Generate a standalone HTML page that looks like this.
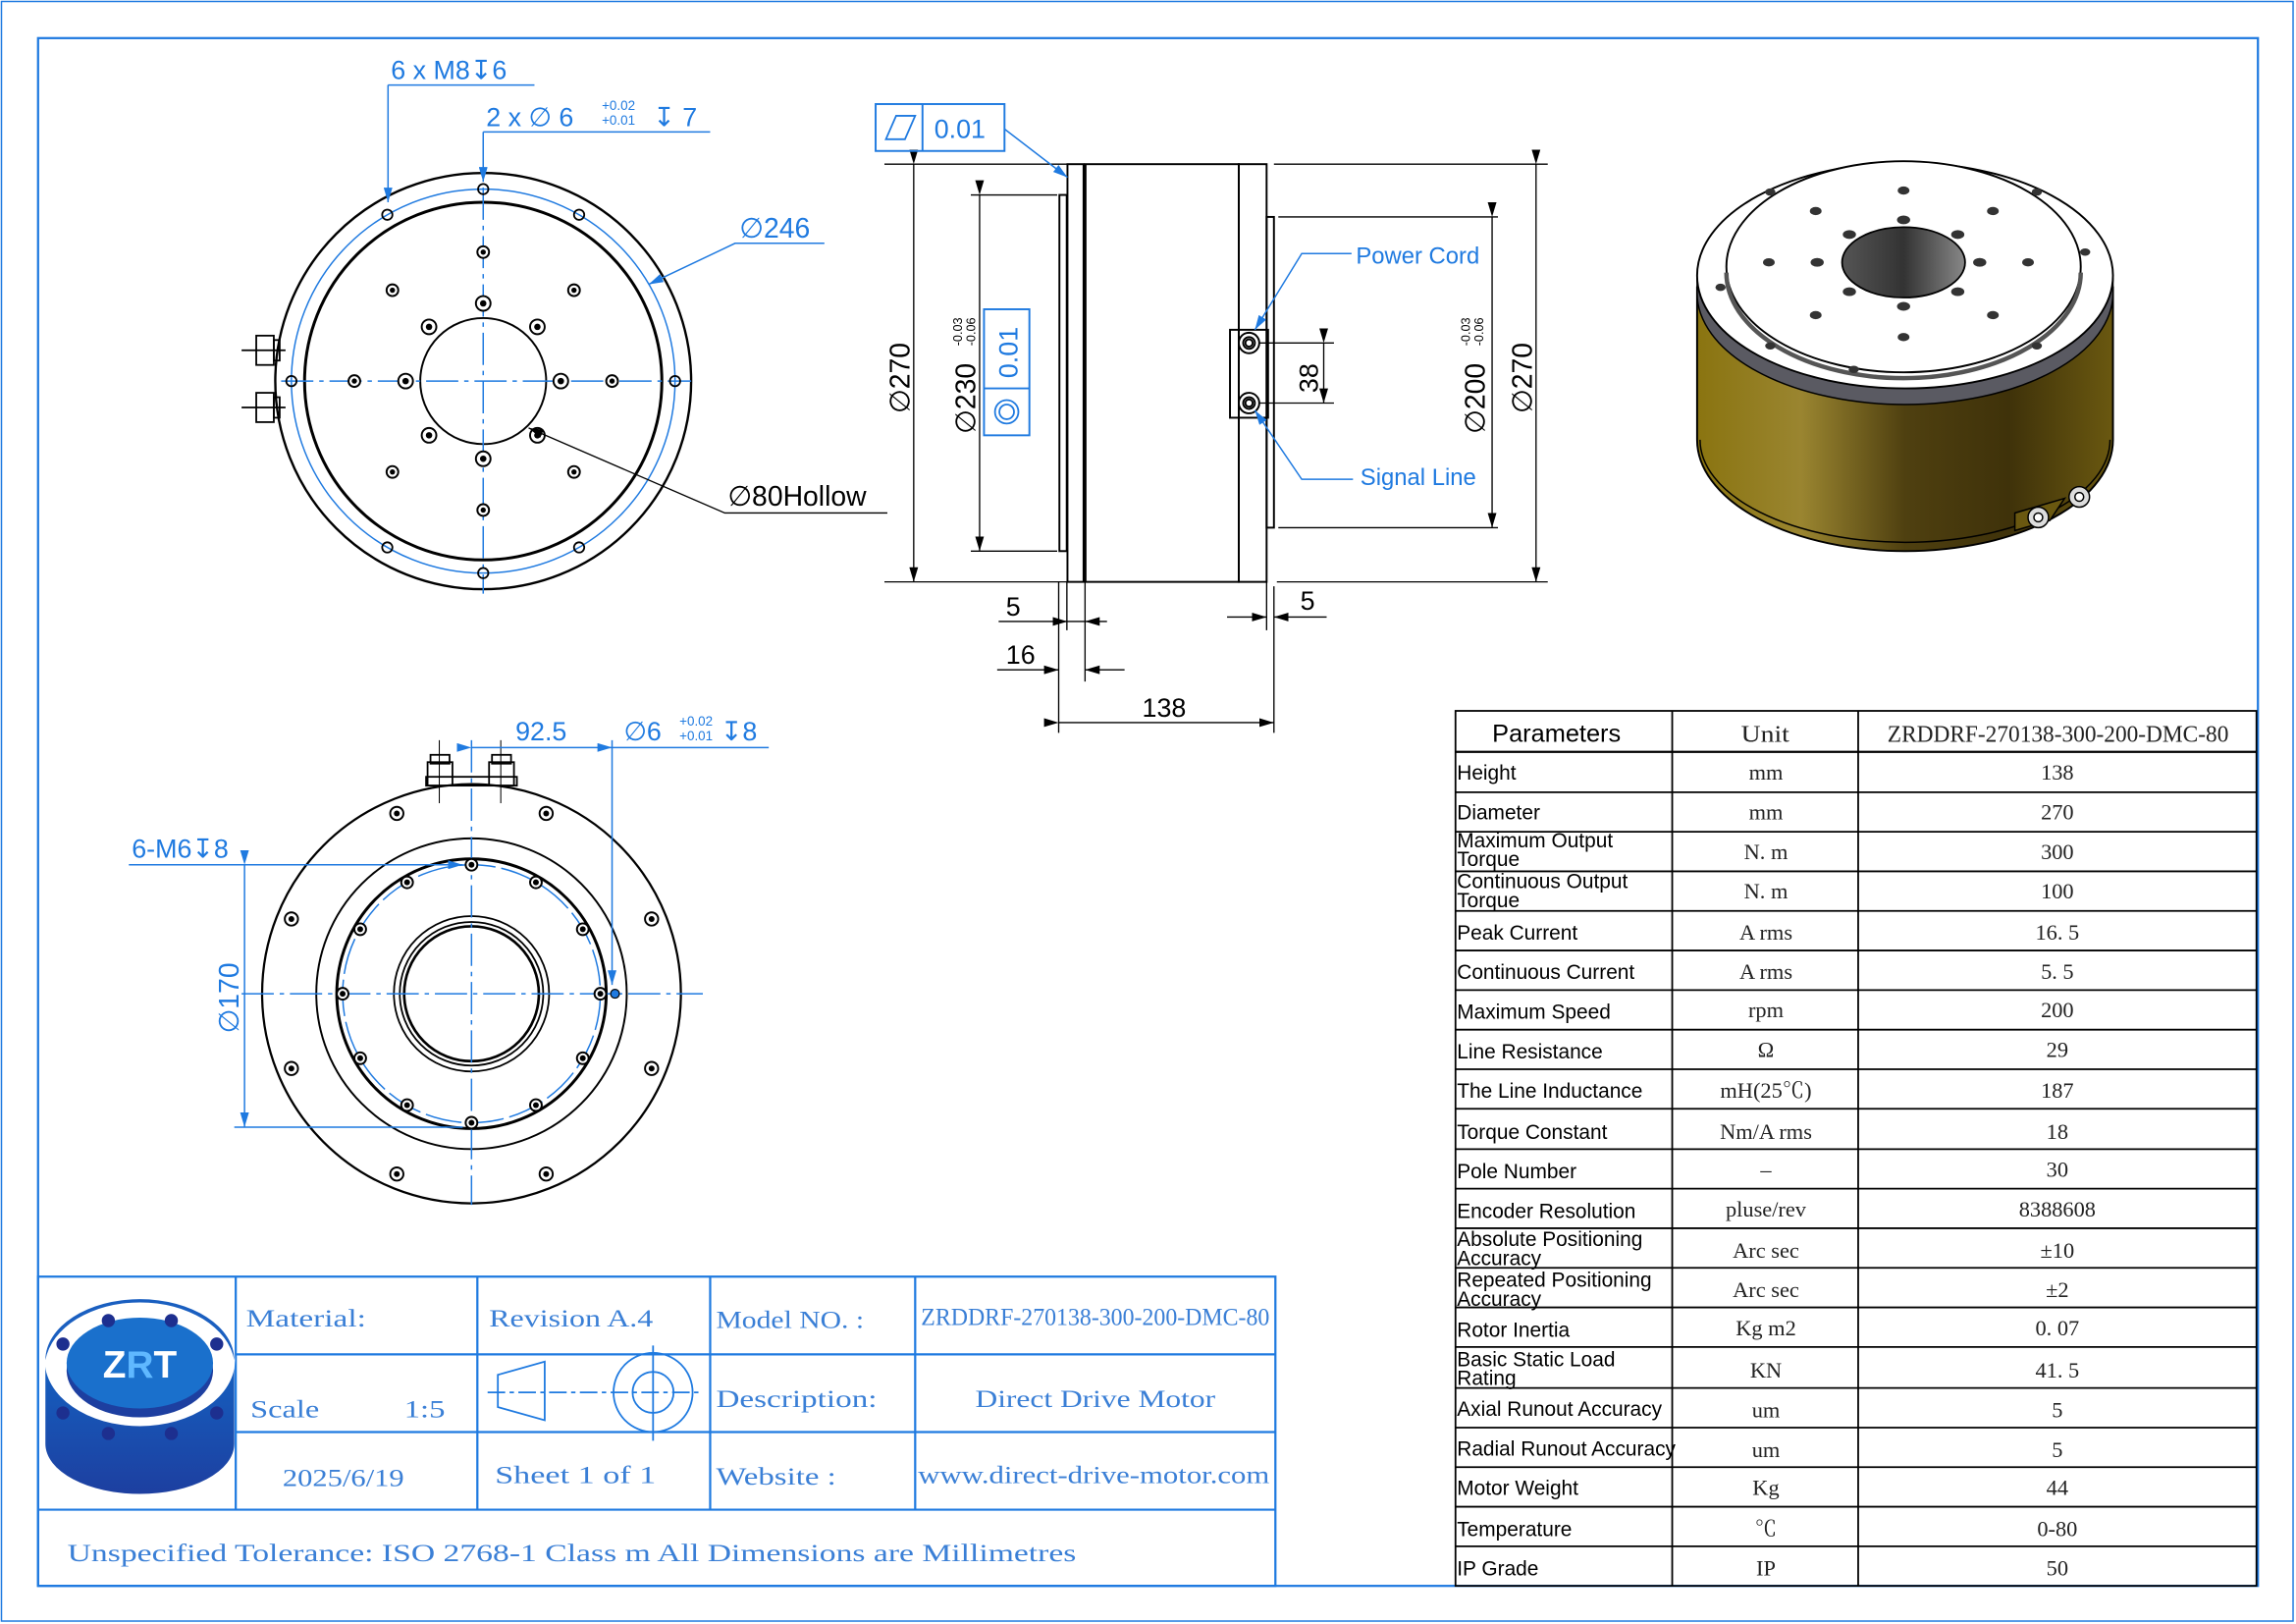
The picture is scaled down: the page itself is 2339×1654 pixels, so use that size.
<!DOCTYPE html>
<html><head><meta charset="utf-8"><style>
html,body{margin:0;padding:0;background:#fff}
svg{display:block}
.b{stroke:#1f7ae0;fill:none}
.k{stroke:#000;fill:none}
.bt{fill:#1f7ae0;font-family:"Liberation Sans",sans-serif}
.st{fill:#3a7fd6;font-family:"Liberation Serif","Noto Serif CJK SC",serif;font-size:17px}
.tp{font-family:"Liberation Sans",sans-serif;font-size:14px;fill:#000}
.tv{font-family:"Liberation Serif","Noto Serif CJK SC",serif;font-size:15px;fill:#222;text-anchor:middle}
</style></head><body>
<svg width="2339" height="1654" viewBox="0 0 1568 1108" preserveAspectRatio="none" xmlns="http://www.w3.org/2000/svg">
<defs>
<marker id="ak" markerWidth="10" markerHeight="6" refX="10" refY="3" orient="auto" markerUnits="userSpaceOnUse"><path d="M0,0 L10,3 L0,6z" fill="#000"/></marker>
<marker id="ab" markerWidth="10" markerHeight="6" refX="10" refY="3" orient="auto" markerUnits="userSpaceOnUse"><path d="M0,0 L10,3 L0,6z" fill="#1f7ae0"/></marker>
<linearGradient id="gold" x1="0" x2="1" y1="0" y2="0">
<stop offset="0" stop-color="#8a7410"/><stop offset="0.25" stop-color="#9a8530"/><stop offset="0.5" stop-color="#4f4010"/><stop offset="0.75" stop-color="#3f320a"/><stop offset="1" stop-color="#6a5810"/></linearGradient>
<linearGradient id="hole" x1="0" x2="1"><stop offset="0" stop-color="#555"/><stop offset="0.5" stop-color="#333"/><stop offset="1" stop-color="#888"/></linearGradient>
<linearGradient id="logo" x1="0" x2="0" y1="0" y2="1"><stop offset="0" stop-color="#1560c0"/><stop offset="1" stop-color="#1d3fa0"/></linearGradient>
</defs>
<rect x="0" y="0" width="1568" height="1108" fill="#fff"/>
<rect x="1" y="1" width="1565" height="1105" class="b" stroke-width="1"/>
<rect x="26" y="26" width="1516" height="1056" class="b" stroke-width="1.5"/>

<!-- ===== TOP-LEFT VIEW ===== -->
<g>
<circle cx="330" cy="260" r="142" class="k" stroke-width="1.6"/>
<circle cx="330" cy="260" r="131" class="b" stroke-width="1"/>
<circle cx="330" cy="260" r="122" class="k" stroke-width="2"/>
<circle cx="330" cy="260" r="43" class="k" stroke-width="1.3"/>
<line x1="330" y1="95" x2="330" y2="405" class="b" stroke-dasharray="22,4,3,4"/>
<line x1="192" y1="260" x2="472" y2="260" class="b" stroke-dasharray="22,4,3,4"/>
<g class="k" stroke-width="1.2">
<circle cx="461" cy="260" r="3.5"/><circle cx="395.5" cy="146.5" r="3.5"/><circle cx="264.5" cy="146.5" r="3.5"/><circle cx="199" cy="260" r="3.5"/><circle cx="264.5" cy="373.5" r="3.5"/><circle cx="395.5" cy="373.5" r="3.5"/>
<circle cx="330" cy="129" r="3.5"/><circle cx="330" cy="391" r="3.5"/>
</g>
<g fill="#fff" stroke="#000" stroke-width="1.3">
<circle cx="330" cy="172" r="4"/><circle cx="392" cy="198" r="4"/><circle cx="418" cy="260" r="4"/><circle cx="392" cy="322" r="4"/><circle cx="330" cy="348" r="4"/><circle cx="268" cy="322" r="4"/><circle cx="242" cy="260" r="4"/><circle cx="268" cy="198" r="4"/>
<circle cx="330" cy="207" r="5"/><circle cx="367" cy="223" r="5"/><circle cx="383" cy="260" r="5"/><circle cx="367" cy="297" r="5"/><circle cx="330" cy="313" r="5"/><circle cx="293" cy="297" r="5"/><circle cx="277" cy="260" r="5"/><circle cx="293" cy="223" r="5"/>
</g>
<g fill="#000"><circle cx="330" cy="172" r="1.8"/><circle cx="392" cy="198" r="1.8"/><circle cx="418" cy="260" r="1.8"/><circle cx="392" cy="322" r="1.8"/><circle cx="330" cy="348" r="1.8"/><circle cx="268" cy="322" r="1.8"/><circle cx="242" cy="260" r="1.8"/><circle cx="268" cy="198" r="1.8"/>
<circle cx="330" cy="207" r="2.2"/><circle cx="367" cy="223" r="2.2"/><circle cx="383" cy="260" r="2.2"/><circle cx="367" cy="297" r="2.2"/><circle cx="330" cy="313" r="2.2"/><circle cx="293" cy="297" r="2.2"/><circle cx="277" cy="260" r="2.2"/><circle cx="293" cy="223" r="2.2"/></g>
<g class="k" stroke-width="1.2">
<rect x="175" y="229" width="12" height="20"/><rect x="187" y="232" width="4" height="14"/><line x1="165" y1="239" x2="195" y2="239"/>
<rect x="175" y="268" width="12" height="20"/><rect x="187" y="271" width="4" height="14"/><line x1="165" y1="278" x2="195" y2="278"/>
</g>
<text x="267" y="54" class="bt" font-size="18">6 x M8↧6</text>
<line x1="265" y1="58" x2="365" y2="58" class="b"/>
<line x1="265" y1="58" x2="265" y2="138" class="b" marker-end="url(#ab)"/>
<text x="332" y="86" class="bt" font-size="18">2 x ∅ 6</text>
<text x="411" y="75" class="bt" font-size="9">+0.02</text>
<text x="411" y="85" class="bt" font-size="9">+0.01</text>
<text x="446" y="86" class="bt" font-size="18">↧ 7</text>
<line x1="330" y1="90" x2="485" y2="90" class="b"/>
<line x1="330" y1="90" x2="330" y2="124" class="b" marker-end="url(#ab)"/>
<text x="505" y="162" class="bt" font-size="19">∅246</text>
<polyline points="563,166 502,166 443,194" class="b" marker-end="url(#ab)"/>
<text x="497" y="345" font-family="Liberation Sans,sans-serif" font-size="19" fill="#000">∅80Hollow</text>
<polyline points="606,350 495,350 361,292" class="k" stroke-width="0.9" marker-end="url(#ak)"/>
</g>

<!-- ===== SIDE VIEW ===== -->
<g class="k" stroke-width="1.3">
<rect x="723.5" y="133" width="5" height="243"/>
<rect x="729" y="112" width="11" height="285"/>
<line x1="741" y1="112" x2="741" y2="397" stroke-width="2"/>
<rect x="741" y="112" width="105" height="285"/>
<rect x="846" y="112" width="19" height="285"/>
<rect x="865" y="148" width="5" height="212"/>
<rect x="840" y="225" width="26" height="60"/>
<circle cx="853" cy="234" r="7"/><circle cx="853" cy="234" r="4"/><circle cx="853" cy="234" r="2.5"/>
<circle cx="853" cy="275" r="7"/><circle cx="853" cy="275" r="4"/><circle cx="853" cy="275" r="2.5"/>
</g>
<g class="k" stroke-width="0.9">
<line x1="604" y1="112" x2="729" y2="112"/><line x1="604" y1="397" x2="729" y2="397"/>
<line x1="624" y1="112" x2="624" y2="397" marker-start="url(#ak)" marker-end="url(#ak)"/>
<line x1="663" y1="133" x2="722" y2="133"/><line x1="663" y1="376" x2="722" y2="376"/>
<line x1="669" y1="133" x2="669" y2="376" marker-start="url(#ak)" marker-end="url(#ak)"/>
<line x1="870" y1="112" x2="1057" y2="112"/><line x1="872" y1="397" x2="1057" y2="397"/>
<line x1="1049" y1="112" x2="1049" y2="397" marker-start="url(#ak)" marker-end="url(#ak)"/>
<line x1="873" y1="148" x2="1023" y2="148"/><line x1="873" y1="360" x2="1023" y2="360"/>
<line x1="1019" y1="148" x2="1019" y2="360" marker-start="url(#ak)" marker-end="url(#ak)"/>
<line x1="860" y1="234" x2="911" y2="234"/><line x1="860" y1="275" x2="911" y2="275"/>
<line x1="904" y1="234" x2="904" y2="275" marker-start="url(#ak)" marker-end="url(#ak)"/>
<line x1="723" y1="397" x2="723" y2="500"/><line x1="728.6" y1="397" x2="728.6" y2="430"/><line x1="741" y1="397" x2="741" y2="465"/>
<line x1="865" y1="397" x2="865" y2="430"/><line x1="870" y1="400" x2="870" y2="500"/>
<line x1="682" y1="424" x2="729" y2="424" marker-end="url(#ak)"/><line x1="756" y1="424" x2="741" y2="424" marker-end="url(#ak)"/><line x1="729" y1="424" x2="741" y2="424"/>
<line x1="681" y1="457" x2="723" y2="457" marker-end="url(#ak)"/><line x1="768" y1="457" x2="741" y2="457" marker-end="url(#ak)"/>
<line x1="838" y1="421" x2="865" y2="421" marker-end="url(#ak)"/><line x1="906" y1="421" x2="870" y2="421" marker-end="url(#ak)"/>
<line x1="723" y1="493" x2="870" y2="493" marker-start="url(#ak)" marker-end="url(#ak)"/>
</g>
<g font-family="Liberation Sans,sans-serif" fill="#000">
<text x="687" y="420" font-size="18">5</text>
<text x="687" y="453" font-size="18">16</text>
<text x="780" y="489" font-size="18">138</text>
<text x="888" y="416" font-size="18">5</text>
<text transform="translate(900,268) rotate(-90)" font-size="18">38</text>
<text transform="translate(621,282) rotate(-90)" font-size="19">∅270</text>
<text transform="translate(666,296) rotate(-90)" font-size="19">∅230</text>
<text transform="translate(657,236) rotate(-90)" font-size="8.5">-0.03</text>
<text transform="translate(666,236) rotate(-90)" font-size="8.5">-0.06</text>
<text transform="translate(1014,296) rotate(-90)" font-size="19">∅200</text>
<text transform="translate(1004,236) rotate(-90)" font-size="8.5">-0.03</text>
<text transform="translate(1013,236) rotate(-90)" font-size="8.5">-0.06</text>
<text transform="translate(1046,282) rotate(-90)" font-size="19">∅270</text>
</g>
<rect x="672" y="211" width="31" height="86" class="b" stroke-width="1.3"/>
<line x1="672" y1="265" x2="703" y2="265" class="b" stroke-width="1.3"/>
<text transform="translate(695,258) rotate(-90)" class="bt" font-size="18">0.01</text>
<circle cx="687.5" cy="281" r="8" class="b" stroke-width="1.2"/><circle cx="687.5" cy="281" r="5" class="b" stroke-width="1.2"/>
<rect x="598" y="71" width="88" height="32" class="b" stroke-width="1.3"/>
<line x1="630" y1="71" x2="630" y2="103" class="b" stroke-width="1.3"/>
<path d="M605,95 L612,79 L625,79 L618,95z" class="b" stroke-width="1.2"/>
<text x="638" y="94" class="bt" font-size="18">0.01</text>
<line x1="686" y1="88" x2="729" y2="121" class="b" marker-end="url(#ab)"/>
<text x="926" y="180" class="bt" font-size="16">Power Cord</text>
<polyline points="923,173 889,173 857,225" class="b" marker-end="url(#ab)"/>
<text x="929" y="331" class="bt" font-size="16">Signal Line</text>
<polyline points="924,327 889,327 857,280" class="b" marker-end="url(#ab)"/>

<!-- ===== 3D VIEW ===== -->
<g>
<path d="M1159,196 L1159,300 A142,76 0 0 0 1443,300 L1443,196z" fill="url(#gold)" stroke="#000" stroke-width="1.3"/>
<path d="M1161,300 A140,70 0 0 0 1441,300" fill="none" stroke="#000" stroke-width="1"/>
<path d="M1159,190 L1159,200 A142,76 0 0 0 1443,200 L1443,190z" fill="#5a5a62" stroke="#000" stroke-width="1"/>
<ellipse cx="1301" cy="188" rx="142" ry="77" fill="#fff" stroke="#000" stroke-width="1.3"/>
<ellipse cx="1300" cy="182" rx="121" ry="72" fill="#fff" stroke="#000" stroke-width="1.3"/>
<path d="M1179,186 A121,72 0 0 0 1421,186" fill="none" stroke="#555" stroke-width="3"/>
<ellipse cx="1300" cy="179" rx="42" ry="24" fill="url(#hole)" stroke="#000" stroke-width="1.2"/>
<g fill="#333">
<ellipse cx="1300" cy="130" rx="4" ry="2.8"/><ellipse cx="1300" cy="150" rx="4.5" ry="3"/><ellipse cx="1300" cy="209" rx="4.5" ry="3"/><ellipse cx="1300" cy="230" rx="4" ry="2.8"/>
<ellipse cx="1241" cy="179" rx="4.5" ry="3"/><ellipse cx="1208" cy="179" rx="4" ry="2.8"/><ellipse cx="1352" cy="179" rx="4.5" ry="3"/><ellipse cx="1385" cy="179" rx="4" ry="2.8"/>
<ellipse cx="1263" cy="160" rx="4.5" ry="3"/><ellipse cx="1337" cy="160" rx="4.5" ry="3"/><ellipse cx="1263" cy="199" rx="4.5" ry="3"/><ellipse cx="1337" cy="199" rx="4.5" ry="3"/>
<ellipse cx="1240" cy="144" rx="4" ry="2.8"/><ellipse cx="1361" cy="144" rx="4" ry="2.8"/><ellipse cx="1240" cy="215" rx="4" ry="2.8"/><ellipse cx="1361" cy="215" rx="4" ry="2.8"/>
<ellipse cx="1209" cy="131" rx="3.5" ry="2.5"/><ellipse cx="1391" cy="131" rx="3.5" ry="2.5"/><ellipse cx="1175" cy="196" rx="3.5" ry="2.5"/><ellipse cx="1424" cy="172" rx="3.5" ry="2.5"/><ellipse cx="1209" cy="236" rx="3.5" ry="2.5"/><ellipse cx="1391" cy="236" rx="3.5" ry="2.5"/><ellipse cx="1266" cy="252" rx="3.5" ry="2.5"/>
</g>
<g stroke="#000" stroke-width="1" fill="#ddd">
<path d="M1376,350 L1376,362 L1400,355 L1410,340z" fill="#6a5810"/>
<circle cx="1392" cy="353" r="7"/><circle cx="1392" cy="353" r="3" fill="#fff"/>
<circle cx="1420" cy="339" r="7"/><circle cx="1420" cy="339" r="3" fill="#fff"/>
</g>
</g>

<!-- ===== BOTTOM VIEW ===== -->
<g>
<circle cx="322" cy="678" r="143" class="k" stroke-width="1.5"/>
<circle cx="322" cy="678" r="106" class="k" stroke-width="1.3"/>
<circle cx="322" cy="678" r="92" class="k" stroke-width="2"/>
<circle cx="322" cy="678" r="88" class="b" stroke-dasharray="25,4"/>
<circle cx="322" cy="678" r="53" class="k" stroke-width="1.2"/>
<circle cx="322" cy="678" r="49" class="k" stroke-width="1.2"/>
<circle cx="322" cy="678" r="46" class="k" stroke-width="1.8"/>
<line x1="322" y1="505" x2="322" y2="822" class="b" stroke-dasharray="22,4,3,4"/>
<line x1="165" y1="678" x2="480" y2="678" class="b" stroke-dasharray="22,4,3,4"/>
<g fill="#fff" stroke="#000" stroke-width="1.3">
<circle cx="322" cy="590" r="4"/><circle cx="366" cy="602" r="4"/><circle cx="398" cy="634" r="4"/><circle cx="410" cy="678" r="4"/><circle cx="398" cy="722" r="4"/><circle cx="366" cy="754" r="4"/><circle cx="322" cy="766" r="4"/><circle cx="278" cy="754" r="4"/><circle cx="246" cy="722" r="4"/><circle cx="234" cy="678" r="4"/><circle cx="246" cy="634" r="4"/><circle cx="278" cy="602" r="4"/>
<circle cx="373" cy="555" r="4.5"/><circle cx="445" cy="627" r="4.5"/><circle cx="445" cy="729" r="4.5"/><circle cx="373" cy="801" r="4.5"/><circle cx="271" cy="801" r="4.5"/><circle cx="199" cy="729" r="4.5"/><circle cx="199" cy="627" r="4.5"/><circle cx="271" cy="555" r="4.5"/>
</g>
<g fill="#000">
<circle cx="322" cy="590" r="2"/><circle cx="366" cy="602" r="2"/><circle cx="398" cy="634" r="2"/><circle cx="410" cy="678" r="2"/><circle cx="398" cy="722" r="2"/><circle cx="366" cy="754" r="2"/><circle cx="322" cy="766" r="2"/><circle cx="278" cy="754" r="2"/><circle cx="246" cy="722" r="2"/><circle cx="234" cy="678" r="2"/><circle cx="246" cy="634" r="2"/><circle cx="278" cy="602" r="2"/>
<circle cx="373" cy="555" r="2"/><circle cx="445" cy="627" r="2"/><circle cx="445" cy="729" r="2"/><circle cx="373" cy="801" r="2"/><circle cx="271" cy="801" r="2"/><circle cx="199" cy="729" r="2"/><circle cx="199" cy="627" r="2"/><circle cx="271" cy="555" r="2"/>
</g>
<circle cx="420" cy="678" r="3" fill="#1f7ae0" stroke="#000" stroke-width="0.8"/>
<g class="k" stroke-width="1.2">
<rect x="291" y="530" width="62" height="6"/>
<rect x="292" y="520" width="17" height="16"/><rect x="294" y="515" width="13" height="6"/>
<rect x="334" y="520" width="17" height="16"/><rect x="336" y="515" width="13" height="6"/>
<line x1="300" y1="505" x2="300" y2="548" stroke-width="0.7"/><line x1="342" y1="505" x2="342" y2="548" stroke-width="0.7"/>
</g>
<text x="352" y="505" class="bt" font-size="18">92.5</text>
<line x1="322" y1="510" x2="418" y2="510" class="b" marker-start="url(#ab)" marker-end="url(#ab)"/>
<line x1="418" y1="510" x2="525" y2="510" class="b"/>
<line x1="418" y1="505" x2="418" y2="672" class="b" marker-end="url(#ab)"/>
<text x="426" y="505" class="bt" font-size="18">∅6</text>
<text x="464" y="495" class="bt" font-size="9">+0.02</text>
<text x="464" y="505" class="bt" font-size="9">+0.01</text>
<text x="492" y="505" class="bt" font-size="18">↧8</text>
<text x="90" y="585" class="bt" font-size="18">6-M6↧8</text>
<line x1="88" y1="590" x2="316" y2="590" class="b" marker-end="url(#ab)"/>
<line x1="160" y1="769" x2="316" y2="769" class="b"/>
<line x1="167" y1="590" x2="167" y2="769" class="b" marker-start="url(#ab)" marker-end="url(#ab)"/>
<text transform="translate(163,705) rotate(-90)" class="bt" font-size="19">∅170</text>
</g>

<!-- ===== TITLE BLOCK ===== -->
<g class="b" stroke-width="1.5">
<rect x="26" y="871" width="845" height="211"/>
<line x1="26" y1="1030" x2="871" y2="1030"/>
<line x1="161" y1="924" x2="871" y2="924"/><line x1="161" y1="977" x2="871" y2="977"/>
<line x1="161" y1="871" x2="161" y2="1030"/><line x1="326" y1="871" x2="326" y2="1030"/><line x1="485" y1="871" x2="485" y2="1030"/><line x1="625" y1="871" x2="625" y2="1030"/>
</g>
<g class="st">
<text x="168" y="905" textLength="82" lengthAdjust="spacingAndGlyphs">Material:</text>
<text x="334" y="905" textLength="112" lengthAdjust="spacingAndGlyphs">Revision A.4</text>
<text x="489" y="906" textLength="101" lengthAdjust="spacingAndGlyphs">Model NO. :</text>
<text x="629" y="904" textLength="238" lengthAdjust="spacingAndGlyphs">ZRDDRF-270138-300-200-DMC-80</text>
<text x="171" y="967" textLength="47" lengthAdjust="spacingAndGlyphs">Scale</text><text x="276" y="967" textLength="28" lengthAdjust="spacingAndGlyphs">1:5</text>
<text x="489" y="960" textLength="110" lengthAdjust="spacingAndGlyphs">Description:</text>
<text x="666" y="960" textLength="164" lengthAdjust="spacingAndGlyphs">Direct Drive Motor</text>
<text x="193" y="1014" textLength="83" lengthAdjust="spacingAndGlyphs">2025/6/19</text>
<text x="338" y="1012" textLength="110" lengthAdjust="spacingAndGlyphs">Sheet 1 of 1</text>
<text x="489" y="1013" textLength="82" lengthAdjust="spacingAndGlyphs">Website :</text>
<text x="627" y="1012" textLength="240" lengthAdjust="spacingAndGlyphs">www.direct-drive-motor.com</text>
<text x="46" y="1065" textLength="689" lengthAdjust="spacingAndGlyphs">Unspecified Tolerance: ISO 2768-1 Class m   All Dimensions are Millimetres</text>
</g>
<g class="b" stroke-width="1.2">
<path d="M340,938 L372,929 L372,969 L340,960z"/>
<circle cx="446" cy="950" r="27"/><circle cx="446" cy="950" r="14"/>
<line x1="333" y1="950" x2="480" y2="950" stroke-dasharray="12,3,3,3"/>
<line x1="446" y1="918" x2="446" y2="983"/>
</g>
<!-- logo -->
<g>
<path d="M31,930 L31,985 A64,34 0 0 0 160,985 L160,930z" fill="url(#logo)"/>
<ellipse cx="95.5" cy="928" rx="65" ry="45" fill="#fff"/>
<path d="M31,928 A65,45 0 0 1 160,928 A62,40 0 0 0 31,928z" fill="#1a5fc0"/>
<ellipse cx="95.5" cy="935" rx="50" ry="32" fill="#1d3fa0"/>
<ellipse cx="95.5" cy="930" rx="50" ry="31" fill="#1a70cc"/>
<g fill="#1d2f8f"><circle cx="74" cy="901" r="4.5"/><circle cx="117" cy="901" r="4.5"/><circle cx="43" cy="917" r="4.5"/><circle cx="148" cy="917" r="4.5"/><circle cx="43" cy="964" r="4.5"/><circle cx="148" cy="964" r="4.5"/><circle cx="74" cy="978" r="4.5"/><circle cx="117" cy="978" r="4.5"/></g>
<text x="95.5" y="940" text-anchor="middle" font-family="Liberation Sans,sans-serif" font-weight="bold" font-size="26" fill="#fff">Z<tspan fill="#5fb8ff">R</tspan>T</text>
</g>

<!-- ===== PARAM TABLE ===== -->
<g stroke="#000" stroke-width="1.2" fill="none">
<rect x="994" y="485" width="547" height="597"/>
<line x1="1142" y1="485" x2="1142" y2="1082"/><line x1="1269" y1="485" x2="1269" y2="1082"/>
<line x1="994" y1="513" x2="1541" y2="513" stroke-width="1.5"/>
<line x1="994" y1="540.5" x2="1541" y2="540.5"/><line x1="994" y1="567.5" x2="1541" y2="567.5"/><line x1="994" y1="594.5" x2="1541" y2="594.5"/><line x1="994" y1="621.5" x2="1541" y2="621.5"/><line x1="994" y1="648.5" x2="1541" y2="648.5"/><line x1="994" y1="675.5" x2="1541" y2="675.5"/><line x1="994" y1="702.5" x2="1541" y2="702.5"/><line x1="994" y1="729.5" x2="1541" y2="729.5"/><line x1="994" y1="756.5" x2="1541" y2="756.5"/><line x1="994" y1="784" x2="1541" y2="784"/><line x1="994" y1="811" x2="1541" y2="811"/><line x1="994" y1="838" x2="1541" y2="838"/><line x1="994" y1="865" x2="1541" y2="865"/><line x1="994" y1="892" x2="1541" y2="892"/><line x1="994" y1="919" x2="1541" y2="919"/><line x1="994" y1="947" x2="1541" y2="947"/><line x1="994" y1="974" x2="1541" y2="974"/><line x1="994" y1="1001" x2="1541" y2="1001"/><line x1="994" y1="1028" x2="1541" y2="1028"/><line x1="994" y1="1055" x2="1541" y2="1055"/>
</g>
<text x="1063" y="506" text-anchor="middle" font-family="Liberation Sans,sans-serif" font-size="17">Parameters</text>
<text x="1189" y="506" font-family="Liberation Serif,serif" font-size="16" fill="#222" textLength="33" lengthAdjust="spacingAndGlyphs">Unit</text>
<text x="1289" y="506" font-family="Liberation Serif,serif" font-size="16" fill="#222" textLength="233" lengthAdjust="spacingAndGlyphs">ZRDDRF-270138-300-200-DMC-80</text>
<g class="tp">
<text x="995" y="532">Height</text>
<text x="995" y="559">Diameter</text>
<text x="995" y="578">Maximum Output</text><text x="995" y="591">Torque</text>
<text x="995" y="606">Continuous Output</text><text x="995" y="619">Torque</text>
<text x="995" y="641">Peak Current</text>
<text x="995" y="668">Continuous Current</text>
<text x="995" y="695">Maximum Speed</text>
<text x="995" y="722">Line Resistance</text>
<text x="995" y="749">The Line Inductance</text>
<text x="995" y="777">Torque Constant</text>
<text x="995" y="804">Pole Number</text>
<text x="995" y="831">Encoder Resolution</text>
<text x="995" y="850">Absolute Positioning</text><text x="995" y="863">Accuracy</text>
<text x="995" y="878">Repeated Positioning</text><text x="995" y="891">Accuracy</text>
<text x="995" y="912">Rotor Inertia</text>
<text x="995" y="932">Basic Static Load</text><text x="995" y="945">Rating</text>
<text x="995" y="966">Axial Runout Accuracy</text>
<text x="995" y="993">Radial Runout Accuracy</text>
<text x="995" y="1020">Motor Weight</text>
<text x="995" y="1048">Temperature</text>
<text x="995" y="1075">IP Grade</text>
</g>
<g class="tv">
<text x="1206" y="532">mm</text><text x="1405" y="532">138</text>
<text x="1206" y="559">mm</text><text x="1405" y="559">270</text>
<text x="1206" y="586">N. m</text><text x="1405" y="586">300</text>
<text x="1206" y="613">N. m</text><text x="1405" y="613">100</text>
<text x="1206" y="641">A  rms</text><text x="1405" y="641">16. 5</text>
<text x="1206" y="668">A  rms</text><text x="1405" y="668">5. 5</text>
<text x="1206" y="694">rpm</text><text x="1405" y="694">200</text>
<text x="1206" y="721">Ω</text><text x="1405" y="721">29</text>
<text x="1206" y="749">mH(25℃)</text><text x="1405" y="749">187</text>
<text x="1206" y="777">Nm/A  rms</text><text x="1405" y="777">18</text>
<text x="1206" y="803">–</text><text x="1405" y="803">30</text>
<text x="1206" y="830">pluse/rev</text><text x="1405" y="830">8388608</text>
<text x="1206" y="858">Arc  sec</text><text x="1405" y="858">±10</text>
<text x="1206" y="885">Arc  sec</text><text x="1405" y="885">±2</text>
<text x="1206" y="911">Kg  m2</text><text x="1405" y="911">0. 07</text>
<text x="1206" y="940">KN</text><text x="1405" y="940">41. 5</text>
<text x="1206" y="967">um</text><text x="1405" y="967">5</text>
<text x="1206" y="994">um</text><text x="1405" y="994">5</text>
<text x="1206" y="1020">Kg</text><text x="1405" y="1020">44</text>
<text x="1206" y="1048">℃</text><text x="1405" y="1048">0-80</text>
<text x="1206" y="1075">IP</text><text x="1405" y="1075">50</text>
</g>
</svg>
</body></html>
